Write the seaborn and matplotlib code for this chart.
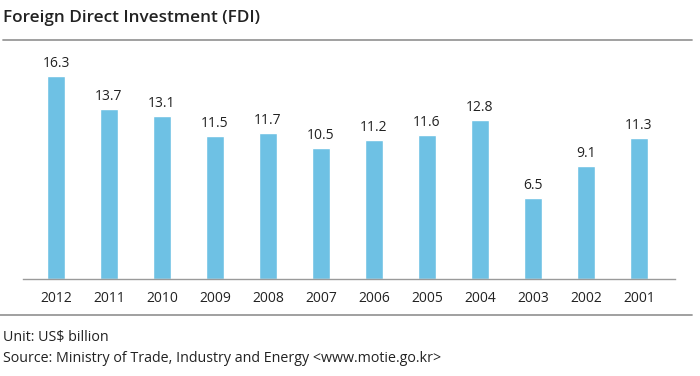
import matplotlib
matplotlib.use('Agg')
import matplotlib.pyplot as plt
import seaborn as sns
import pandas as pd
from matplotlib.lines import Line2D

# Data
years = ['2012', '2011', '2010', '2009', '2008', '2007', '2006', '2005', '2004', '2003', '2002', '2001']
fdi = [16.3, 13.7, 13.1, 11.5, 11.7, 10.5, 11.2, 11.6, 12.8, 6.5, 9.1, 11.3]

df = pd.DataFrame({'year': years, 'fdi': fdi})

sns.set_theme(style='white')
plt.rcParams['font.family'] = ['Open Sans', 'DejaVu Sans']

W, H = 700, 376
fig = plt.figure(figsize=(7, 3.76), dpi=100)
# axes: x 23..675 px, y 55..279 px
ax = fig.add_axes([23 / W, 1 - 279 / H, (675 - 23) / W, (279 - 55) / H])

sns.barplot(data=df, x='year', y='fdi', color='#6ec1e4', saturation=1, width=0.34, ax=ax)

ax.set_xlim(-0.623, 11.68)
ax.set_ylim(0, 18)
ax.set_xlabel('')
ax.set_ylabel('')
ax.set_yticks([])
for s in ['top', 'right', 'left']:
    ax.spines[s].set_visible(False)
ax.spines['bottom'].set_color('#9a9a9a')
ax.spines['bottom'].set_linewidth(1.0)
ax.tick_params(axis='x', length=0, pad=9, labelsize=10, labelcolor='#222222')

for i, v in enumerate(fdi):
    ax.text(i, v + 0.4, f'{v}', ha='center', va='bottom', fontsize=10, color='#222222')

# title and rules
fig.text(3 / W, 1 - 18 / H, 'Foreign Direct Investment (FDI)', ha='left', va='center',
         fontsize=12.3, fontweight='semibold', color='#222222')
fig.add_artist(Line2D([3 / W, 692 / W], [1 - 40 / H, 1 - 40 / H], color='#999999', lw=1.3))
fig.add_artist(Line2D([0 / W, 692 / W], [1 - 315 / H, 1 - 315 / H], color='#999999', lw=1.3))

fig.text(3 / W, 1 - 338 / H, 'Unit: US$ billion', ha='left', va='center', fontsize=10.3, color='#222222')
fig.text(3 / W, 1 - 358 / H, 'Source: Ministry of Trade, Industry and Energy <www.motie.go.kr>',
         ha='left', va='center', fontsize=10.3, color='#222222')

fig.savefig('out.png', dpi=100)
